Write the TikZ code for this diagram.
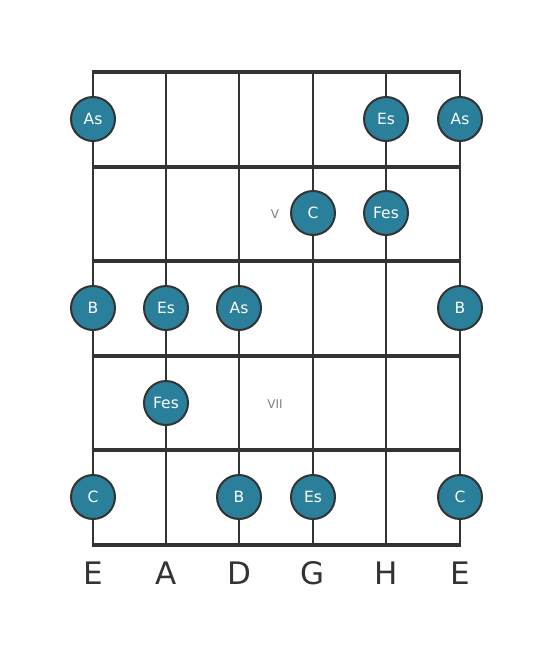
\documentclass[tikz,border=0pt]{standalone}
\usepackage{fontspec}
\setmainfont{DejaVu Sans}
\definecolor{lineclr}{HTML}{333333}
\definecolor{noteclr}{HTML}{2A7F9B}
\definecolor{fretnum}{HTML}{808080}
\begin{document}
\begin{tikzpicture}[x=1pt,y=-1pt,
  fretline/.style={draw=lineclr,line width=4pt},
  stringline/.style={draw=lineclr,line width=2.5pt},
  note/.style={circle,draw=lineclr,line width=2pt,fill=noteclr,minimum size=44pt,inner sep=0pt,text=white,font=\fontsize{15.5}{15.5}\selectfont},
  strlabel/.style={text=lineclr,font=\fontsize{31}{31}\selectfont},
  fretlabel/.style={text=fretnum,font=\fontsize{12}{12}\selectfont}]
\useasboundingbox (0,0) rectangle (553,656);
\fill[white] (0,0) rectangle (553,656);
% strings
\foreach \x/\n in {93/s1,166/s2,239/s3,313/s4,386/s5,460/s6}{
  \coordinate (\n t) at (\x,72);
  \coordinate (\n b) at (\x,545);
  \draw[stringline] (\n t) -- (\n b);
}
% frets
\foreach \y/\n in {72/f0,167/f1,261/f2,356/f3,450/f4,545/f5}{
  \coordinate (\n l) at (91.75,\y);
  \coordinate (\n r) at (461.25,\y);
  \draw[fretline] (\n l) -- (\n r);
}
% string labels
\node[strlabel] (l1) at (93,573) {E};
\node[strlabel] (l2) at (166,573) {A};
\node[strlabel] (l3) at (239,573) {D};
\node[strlabel] (l4) at (313,573) {G};
\node[strlabel] (l5) at (386,573) {H};
\node[strlabel] (l6) at (460,573) {E};
% fret numbers
\node[fretlabel] (v5) at (275,214) {V};
\node[fretlabel] (v7) at (275,404) {VII};
% notes
\node[note] (n1) at (93,119) {As};
\node[note] (n2) at (386,119) {Es};
\node[note] (n3) at (460,119) {As};
\node[note] (n4) at (313,213) {C};
\node[note] (n5) at (386,213) {Fes};
\node[note] (n6) at (93,308) {B};
\node[note] (n7) at (166,308) {Es};
\node[note] (n8) at (239,308) {As};
\node[note] (n9) at (460,308) {B};
\node[note] (n10) at (166,403) {Fes};
\node[note] (n11) at (93,497) {C};
\node[note] (n12) at (239,497) {B};
\node[note] (n13) at (313,497) {Es};
\node[note] (n14) at (460,497) {C};
\end{tikzpicture}
\end{document}
